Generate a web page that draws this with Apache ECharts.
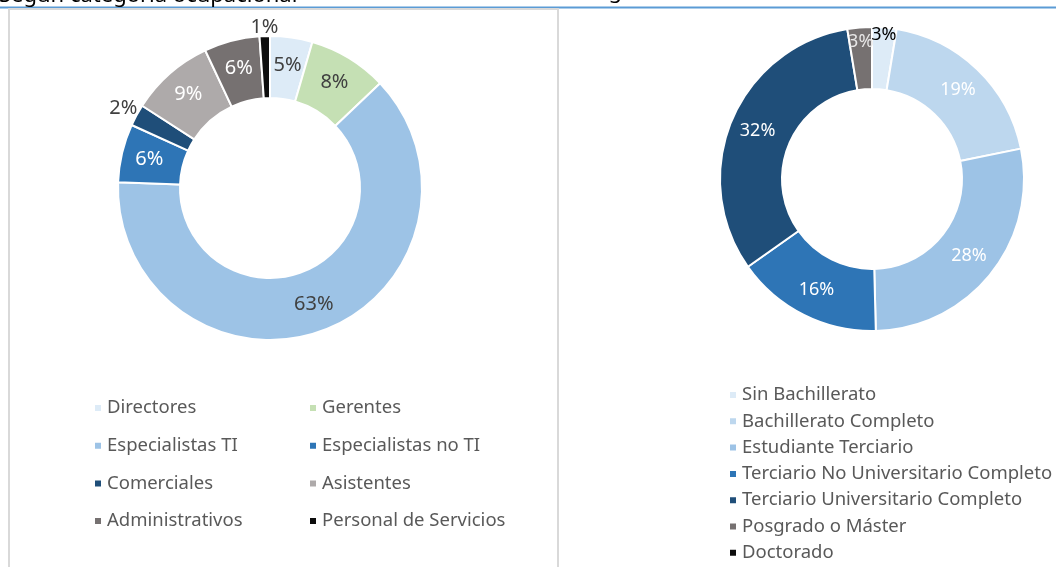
<!DOCTYPE html>
<html><head><meta charset="utf-8">
<script src="https://cdn.jsdelivr.net/npm/echarts@6/dist/echarts.min.js"></script>
<style>html,body{margin:0;padding:0;background:#fff}#c{width:1056px;height:567px}</style>
</head><body><div id="c"></div>
<script>
// ---- data ----
const occCategories = ['Directores','Gerentes','Especialistas TI','Especialistas no TI','Comerciales','Asistentes','Administrativos','Personal de Servicios'];
const occValues = [4.5, 8.4, 62.7, 6.2, 2.3, 8.9, 5.9, 1.1];
const eduCategories = ['Sin Bachillerato','Bachillerato Completo','Estudiante Terciario','Terciario No Universitario Completo','Terciario Universitario Completo','Posgrado o Máster','Doctorado'];
const eduValues = [2.6, 19.2, 27.8, 15.6, 32.2, 2.6, 0];
const headerLeft = 'Según categoría ocupacional';
const headerRight = 'Según nivel educativo';

// ---- styles ----
const FONT = 'Noto Sans';
const occColors = ['#DDEBF7','#C5E0B4','#9DC3E6','#2E75B6','#1F4E79','#AEAAAA','#767171','#0D0D0D'];
const eduColors = ['#DDEBF7','#BDD7EE','#9DC3E6','#2E75B6','#1F4E79','#767171','#0D0D0D'];
const occLabelColors = ['#404040','#404040','#404040','#ffffff','#404040','#ffffff','#ffffff','#404040'];
const eduLabelColors = ['#000000','#ffffff','#ffffff','#ffffff','#ffffff','#e7e6e6','#000000'];
const occLabelPlace = [null,null,null,null,'out',null,null,'out'];
const eduLabelPlace = [145,null,null,null,null,138,null];

const OCC = {cx: 270, cy: 188, r0: 90, r1: 152};
const EDU = {cx: 872, cy: 179, r0: 90, r1: 152};

function makeLayout(values, place, g) {
  const total = values.reduce((a, b) => a + b, 0);
  return function (p) {
    const i = p.dataIndex, pl = place[i];
    if (pl == null) return {};
    let cum = 0;
    for (let k = 0; k < i; k++) cum += values[k];
    const mid = (cum + values[i] / 2) / total * 2 * Math.PI;
    const ux = Math.sin(mid), uy = -Math.cos(mid);
    let r;
    if (pl === 'out') {
      const w = p.labelRect.width, h = p.labelRect.height;
      r = g.r1 + Math.abs(ux) * w / 2 + Math.abs(uy) * h / 2 - 2;
    } else r = pl;
    return {x: g.cx + ux * r, y: g.cy + uy * r, align: 'center', verticalAlign: 'middle'};
  };
}

function pieSeries(cats, vals, colors, lblColors, place, g, fs) {
  return {
    type: 'pie',
    center: [g.cx, g.cy],
    radius: [g.r0, g.r1],
    startAngle: 90,
    clockwise: true,
    avoidLabelOverlap: false,
    silent: true,
    itemStyle: {borderColor: '#ffffff', borderWidth: 2},
    labelLine: {show: false},
    labelLayout: makeLayout(vals, place, g),
    data: cats.map((c, i) => ({
      name: c, value: vals[i],
      itemStyle: {color: colors[i]},
      label: {
        show: vals[i] > 0,
        position: 'inside',
        color: lblColors[i],
        fontSize: fs,
        fontFamily: FONT,
        formatter: p => p.value > 0 ? Math.round(p.value) + '%' : ''
      }
    }))
  };
}

const legendText = {fontSize: 18.5, color: '#595959', fontFamily: FONT, lineHeight: 20};
const chart = echarts.init(document.getElementById('c'));
chart.setOption({
  animation: false,
  backgroundColor: '#ffffff',
  graphic: [
    {type: 'line', z: 0, shape: {x1: 0, y1: 7.5, x2: 1056, y2: 7.5}, style: {stroke: '#5B9BD5', lineWidth: 2}},
    {type: 'rect', z: 1, shape: {x: 9, y: 9, width: 549, height: 600}, style: {fill: '#ffffff', stroke: '#d9d9d9', lineWidth: 2}},
    {type: 'text', z: 1, x: -1, y: -4.5, style: {text: headerLeft, fontSize: 22, fontFamily: FONT, fill: '#000', verticalAlign: 'middle'}},
    {type: 'text', z: 1, x: 584, y: -8, style: {text: headerRight, fontSize: 22, fontFamily: FONT, fill: '#000', verticalAlign: 'middle'}}
  ],
  legend: [
    {data: occCategories.filter((_, i) => i % 2 === 0), orient: 'vertical', left: 93, top: 398, padding: 0,
     itemWidth: 8, itemHeight: 8, itemGap: 17.7, icon: 'rect', selectedMode: false, textStyle: legendText},
    {data: occCategories.filter((_, i) => i % 2 === 1), orient: 'vertical', left: 308, top: 398, padding: 0,
     itemWidth: 8, itemHeight: 8, itemGap: 17.7, icon: 'rect', selectedMode: false, textStyle: legendText},
    {data: eduCategories, orient: 'vertical', left: 728, top: 385, padding: 0,
     itemWidth: 8, itemHeight: 8, itemGap: 6.3, icon: 'rect', selectedMode: false, textStyle: legendText}
  ],
  series: [
    pieSeries(occCategories, occValues, occColors, occLabelColors, occLabelPlace, OCC, 20),
    pieSeries(eduCategories, eduValues, eduColors, eduLabelColors, eduLabelPlace, EDU, 18)
  ]
});
</script>
</body></html>
